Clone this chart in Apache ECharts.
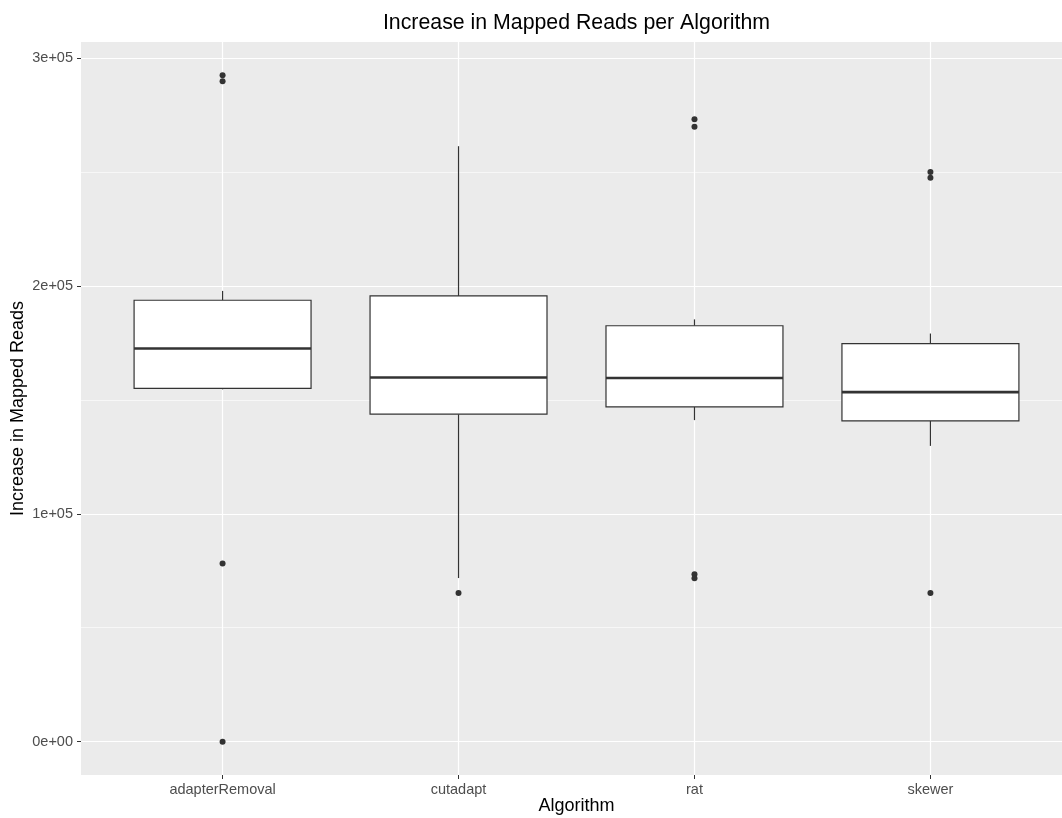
<!DOCTYPE html>
<html>
<head>
<meta charset="utf-8">
<title>Increase in Mapped Reads per Algorithm</title>
<script src="https://cdn.jsdelivr.net/npm/echarts@6/dist/echarts.min.js"></script>
<style>
  html, body { margin: 0; padding: 0; background: #ffffff; }
  #chart { width: 1062px; height: 818px; }
</style>
</head>
<body>
<div id="chart"></div>
<script>
// Algorithms compared (one box per algorithm)
const categories = ['adapterRemoval', 'cutadapt', 'rat', 'skewer'];

// Five-number summaries of the increase in mapped reads
const whiskerLow  = [154600,  71800, 141100, 129800];
const q1          = [155000, 143700, 146900, 140800];
const median      = [172500, 159800, 159600, 153400];
const q3          = [193700, 195600, 182500, 174700];
const whiskerHigh = [197800, 261300, 185300, 179100];

// Points beyond the whiskers, per algorithm
const outliers = [
  [292400, 289800, 78200, 0],
  [65200],
  [273100, 269800, 73500, 71700],
  [250000, 247400, 65200]
];

// Axis tick values
const yMajorTicks = [0, 100000, 200000, 300000];
const yMinorTicks = [50000, 150000, 250000];
const yTickLabels = ['0e+00', '1e+05', '2e+05', '3e+05'];

// Panel range: data range padded by 5% on each side
const allValues = whiskerLow.concat(whiskerHigh, ...outliers);
const dataMin = Math.min(...allValues);
const dataMax = Math.max(...allValues);
const pad = (dataMax - dataMin) * 0.05;
const yMin = dataMin - pad;
const yMax = dataMax + pad;

// Discrete x positions 1..n, padded by 0.6 units
const xPositions = categories.map((_, i) => i + 1);
const xMin = 1 - 0.6;
const xMax = categories.length + 0.6;
const BOX_WIDTH = 0.75;

const FONT = '"Liberation Sans", Arial, Helvetica, sans-serif';
const INK = '#333333';

const boxRows = categories.map((_, i) => [
  xPositions[i], whiskerLow[i], q1[i], median[i], q3[i], whiskerHigh[i]
]);
const outlierPoints = [];
outliers.forEach((vals, i) => vals.forEach(v => outlierPoints.push([xPositions[i], v])));

// Panel box (the panel runs a little past the right edge of the canvas)
const GRID = { left: 81, top: 42, width: 991, height: 733 };

function renderBox(params, api) {
  const x = api.value(0);
  const low = api.coord([x, api.value(1)]);
  const lo = api.coord([x, api.value(2)]);
  const mid = api.coord([x, api.value(3)]);
  const hi = api.coord([x, api.value(4)]);
  const high = api.coord([x, api.value(5)]);
  const halfW = api.size([BOX_WIDTH, 0])[0] / 2;
  const stroke = { stroke: INK, lineWidth: 1.2, fill: null };
  return {
    type: 'group',
    children: [
      { type: 'line', shape: { x1: hi[0], y1: hi[1], x2: high[0], y2: high[1] }, style: stroke },
      { type: 'line', shape: { x1: lo[0], y1: lo[1], x2: low[0], y2: low[1] }, style: stroke },
      {
        type: 'rect',
        shape: { x: lo[0] - halfW, y: hi[1], width: halfW * 2, height: lo[1] - hi[1] },
        style: { fill: '#ffffff', stroke: INK, lineWidth: 1.2 }
      },
      {
        type: 'line',
        shape: { x1: mid[0] - halfW, y1: mid[1], x2: mid[0] + halfW, y2: mid[1] },
        style: { stroke: INK, lineWidth: 2.6 }
      }
    ]
  };
}

const chart = echarts.init(document.getElementById('chart'), null, { renderer: 'canvas' });

const panelCenterX = GRID.left + GRID.width / 2;

chart.setOption({
  animation: false,
  backgroundColor: '#ffffff',
  title: {
    text: 'Increase in Mapped Reads per Algorithm',
    left: panelCenterX,
    textAlign: 'center',
    top: 13,
    padding: 0,
    textStyle: { fontFamily: FONT, fontSize: 21.3, fontWeight: 'normal', color: '#000000' }
  },
  grid: Object.assign({
    show: true, backgroundColor: '#EBEBEB', borderWidth: 0,
    containLabel: false, outerBoundsMode: 'none'
  }, GRID),
  xAxis: {
    type: 'value',
    min: xMin,
    max: xMax,
    name: 'Algorithm',
    nameLocation: 'middle',
    nameGap: 22,
    nameMoveOverlap: false,
    nameTextStyle: { fontFamily: FONT, fontSize: 18, color: '#000000' },
    axisLine: { show: false, onZero: false },
    axisTick: { show: true, length: 4, customValues: xPositions, lineStyle: { color: INK, width: 1 } },
    axisLabel: {
      customValues: xPositions,
      margin: 7,
      fontFamily: FONT, fontSize: 14.5, color: '#4D4D4D',
      formatter: v => categories[Math.round(v) - 1] || ''
    },
    splitLine: { show: true, lineStyle: { color: '#ffffff', width: 1.2 } }
  },
  yAxis: [
    {
      type: 'value',
      min: yMin,
      max: yMax,
      name: 'Increase in Mapped Reads',
      nameLocation: 'middle',
      nameGap: 54,
      nameMoveOverlap: false,
      nameTextStyle: { fontFamily: FONT, fontSize: 18, color: '#000000' },
      axisLine: { show: false, onZero: false },
      axisTick: { show: true, length: 4, customValues: yMajorTicks, lineStyle: { color: INK, width: 1 } },
      axisLabel: {
        customValues: yMajorTicks,
        margin: 8,
        fontFamily: FONT, fontSize: 14.5, color: '#4D4D4D',
        formatter: v => {
          const i = yMajorTicks.indexOf(Math.round(v));
          return i >= 0 ? yTickLabels[i] : '';
        }
      },
      splitLine: { show: true, lineStyle: { color: '#ffffff', width: 1.2 } }
    },
    {
      type: 'value',
      min: yMin,
      max: yMax,
      axisLine: { show: false, onZero: false },
      axisTick: { show: false, customValues: yMinorTicks },
      axisLabel: { show: false, customValues: yMinorTicks },
      splitLine: { show: true, lineStyle: { color: '#ffffff', width: 0.6 } }
    }
  ],
  series: [
    {
      type: 'custom',
      name: 'box',
      renderItem: renderBox,
      data: boxRows,
      encode: { x: 0, y: [1, 2, 3, 4, 5] },
      z: 3
    },
    {
      type: 'scatter',
      name: 'outliers',
      data: outlierPoints,
      symbol: 'circle',
      symbolSize: 6,
      itemStyle: { color: INK, opacity: 1 },
      z: 4
    }
  ]
});
</script>
</body>
</html>
